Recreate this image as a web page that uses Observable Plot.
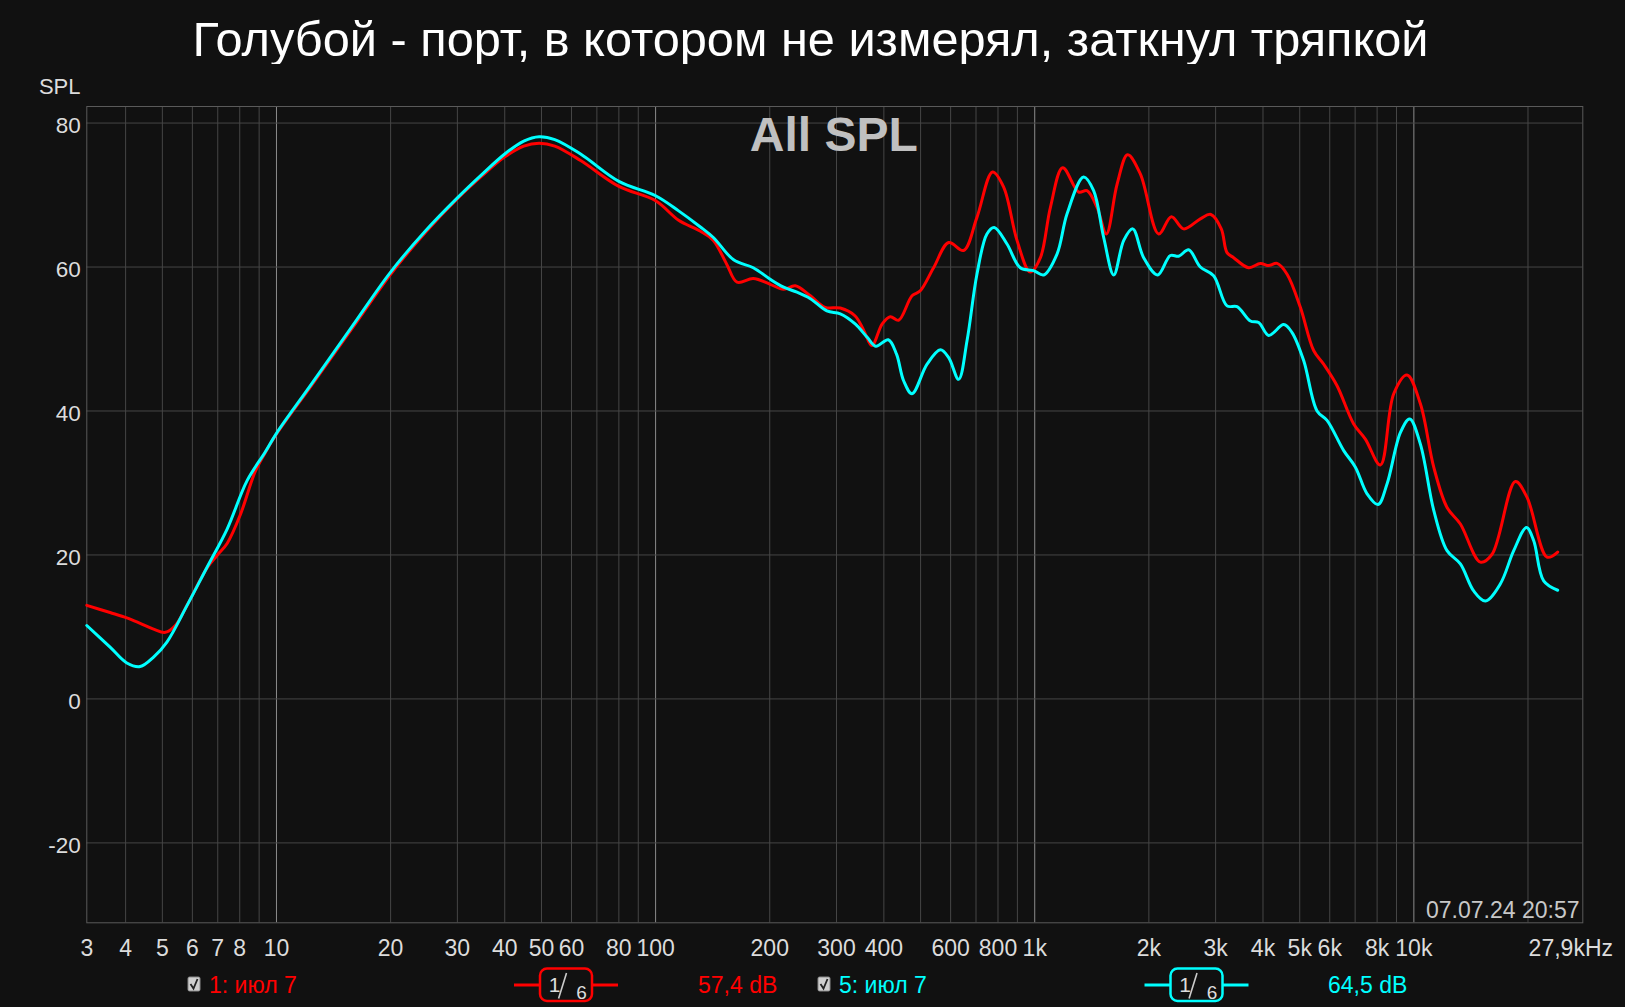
<!DOCTYPE html>
<html>
<head>
<meta charset="utf-8">
<script src="https://cdn.jsdelivr.net/npm/d3@7"></script>
<script src="https://cdn.jsdelivr.net/npm/@observablehq/plot@0.6"></script>
<style>
  html, body { margin: 0; padding: 0; background: #111111; }
  #wrap { position: relative; width: 1625px; height: 1007px; overflow: hidden; background: #111111; font-family: "Liberation Sans", Arial, sans-serif; }
  #title { position: absolute; top: 15px; left: -2px; width: 1625px; text-align: center; color: #ffffff; font-size: 48.7px; line-height: 48px; white-space: nowrap; }
  #plot { position: absolute; top: 64px; left: 0; }
  #legend { position: absolute; top: 960px; left: 0; }
</style>
</head>
<body>
<div id="wrap">
  <div id="title">Голубой - порт, в котором не измерял, заткнул тряпкой</div>
  <div id="plot"></div>
  <svg id="legend" width="1625" height="47" xmlns="http://www.w3.org/2000/svg" font-family="Liberation Sans, Arial, sans-serif"></svg>
</div>
<script>
// ---------- data ----------
const freq1 = [3.16,3.64,4.03,4.37,4.74,5.09,5.41,5.81,6.56,6.96,7.41,8.03,8.79,9.34,10,12.35,15.9,20,24.7,30,34.9,40,44.9,49.3,54.2,63.4,80,100,115,131,142,154,164,181,200.6,217.6,233.6,256,280,307,336,354,372,396,416,437.5,474.6,499,541,593,649,704,774,828,898,973,1035,1100,1185,1306,1373,1460,1545,1649,1758,1900,2123,2293,2471,2734,2914,3105,3215,3347,3666,3936,4141,4357,4630,5019,5441,5781,6272,6938,7448,8160,8849,9594,10404,11284,12233,13266,14978,16080,18520,19887,22455,23954];
const spl1 = [13.0,12.0,11.25,10.5,9.7,9.25,10.2,13.0,18.2,19.9,21.6,25.6,31.6,34.2,36.8,43.5,51.6,59.0,64.8,69.5,72.7,75.3,76.8,77.2,76.8,74.8,71.2,69.2,66.5,65.0,63.7,60.4,57.9,58.4,57.6,56.9,57.4,56.0,54.4,54.3,53.2,51.2,49.1,52.1,53.1,52.6,56.0,56.7,59.9,63.4,62.3,66.9,73.2,71.1,63.7,59.3,61.3,68.3,73.8,70.4,70.6,68.3,64.6,71.5,75.6,72.9,64.6,67.0,65.3,66.7,67.3,65.3,62.0,61.3,59.9,60.5,60.2,60.5,59.0,54.4,48.4,46.5,43.5,38.2,36.1,32.5,42.4,45.0,41.0,32.2,26.6,24.3,19.0,20.1,30.2,28.0,19.7,20.4];

const freq2 = [3.16,3.64,4.03,4.37,4.74,5.14,5.81,6.56,7.41,8.36,9.34,10,12.35,15.9,20,24.7,30,34.9,40,44.9,49.3,54.2,63.4,80,100,115,131,142,160.6,181,200.6,217.6,236,256,283,307,336,362,381,411,432,451,474.6,520,564,593,630,663,704,748,782,845,916,993,1056,1145,1217,1346,1430,1520,1616,1717,1813,1938,2110,2279,2397,2547,2734,2964,3215,3417,3706,3897,4141,4537,4772,5121,5555,5902,6531,7011,7526,8044,8500,9213,9750,10404,11284,12233,13266,14380,15443,16915,18340,19810,20700,22000,23954];
const spl2 = [10.2,7.2,5.0,4.5,5.8,7.9,13.0,18.3,23.6,30.3,34.3,36.9,43.7,51.9,59.3,65.0,69.6,72.9,75.7,77.5,78.1,77.7,75.7,71.9,69.9,67.8,65.6,64.1,61.0,59.9,58.3,57.2,56.5,55.6,53.9,53.5,52.1,50.2,49.0,49.9,47.9,44.2,42.4,46.5,48.5,47.4,44.4,49.8,59.0,64.6,65.5,63.2,59.9,59.5,58.9,61.8,67.4,72.5,70.6,64.1,58.9,63.7,65.3,61.3,58.9,61.6,61.5,62.4,60.0,58.8,54.6,54.5,52.5,52.3,50.5,52.0,50.9,47.0,40.0,38.7,34.5,32.2,28.5,27.0,29.9,37.0,38.9,35.4,26.2,20.6,18.75,15.0,13.6,16.0,20.6,23.8,22.0,16.4,15.1];

const xDomain = [3.16, 27900];
const yDomain = [-31.1, 82.3];
const yTicks = [-20, 0, 20, 40, 60, 80];
const yTickLabels = ["-20", "0", "20", "40", "60", "80"];
const xTickValues = [3.16, 4, 5, 6, 7, 8, 10, 20, 30, 40, 50, 60, 80, 100, 200, 300, 400, 600, 800, 1000, 2000, 3000, 4000, 5000, 6000, 8000, 10000];
const xTickLabels = ["3", "4", "5", "6", "7", "8", "10", "20", "30", "40", "50", "60", "80", "100", "200", "300", "400", "600", "800", "1k", "2k", "3k", "4k", "5k", "6k", "8k", "10k"];
const xEndLabel = "27,9kHz";
const majorGrid = [10, 100, 1000, 10000];
const minorGrid = [4,5,6,7,8,9, 20,30,40,50,60,70,80,90, 200,300,400,500,600,700,800,900, 2000,3000,4000,5000,6000,7000,8000,9000, 20000];

const series1Name = "1: июл 7", series1Level = "57,4 dB";
const series2Name = "5: июл 7", series2Level = "64,5 dB";
const smoothing = ["1", "6"];
const yLabel = "SPL";
const chartLabel = "All SPL";
const stamp = "07.07.24 20:57";

const red = "#ff0000", cyan = "#00ffff";

const data1 = freq1.map((f, i) => ({f, v: spl1[i]}));
const data2 = freq2.map((f, i) => ({f, v: spl2[i]}));
const xTicksData = xTickValues.map((v, i) => ({v, label: xTickLabels[i]}));
const yTicksData = yTicks.map((v, i) => ({v, label: yTickLabels[i]}));

const chart = Plot.plot({
  width: 1625,
  height: 896,
  marginTop: 42,
  marginBottom: 37.7,
  marginLeft: 86.3,
  marginRight: 42.7,
  style: {background: "#111111", color: "#dcdcdc", fontFamily: "Liberation Sans, Arial, sans-serif", fontSize: "22px"},
  x: {type: "log", domain: xDomain, axis: null},
  y: {domain: yDomain, axis: null},
  marks: [
    Plot.ruleX(minorGrid, {stroke: "#464646", strokeWidth: 1}),
    Plot.ruleX(majorGrid, {stroke: "#8c8c8c", strokeWidth: 1}),
    Plot.ruleY(yTicks, {stroke: "#464646", strokeWidth: 1}),
    Plot.frame({stroke: "#5a5a5a"}),
    Plot.text(yTicksData, {y: "v", text: "label", frameAnchor: "left", textAnchor: "end", dx: -6, dy: 3, fontSize: 22.5, fill: "#dcdcdc"}),
    Plot.text(xTicksData, {x: "v", text: "label", frameAnchor: "bottom", lineAnchor: "bottom", dy: 32.7, fontSize: 23, fill: "#dcdcdc"}),
    Plot.text([xEndLabel], {x: () => xDomain[1], frameAnchor: "bottom", lineAnchor: "bottom", dy: 32.7, dx: -12, text: d => d, fontSize: 23, fill: "#dcdcdc"}),
    Plot.text([yLabel], {frameAnchor: "top-left", textAnchor: "end", lineAnchor: "bottom", dx: -6.3, dy: -12.7, text: d => d, fontSize: 22, fill: "#dcdcdc"}),
    Plot.text([chartLabel], {frameAnchor: "top", lineAnchor: "bottom", dx: -1, dy: 44.7, text: d => d, fontSize: 48, fontWeight: "bold", fill: "#c0c0c0"}),
    Plot.text([stamp], {frameAnchor: "bottom-right", textAnchor: "end", lineAnchor: "bottom", dx: -3.3, dy: -5, text: d => d, fontSize: 23, fill: "#c8c8c8"}),
    Plot.line(data1, {x: "f", y: "v", stroke: red, strokeWidth: 3, curve: "catmull-rom"}),
    Plot.line(data2, {x: "f", y: "v", stroke: cyan, strokeWidth: 3, curve: "catmull-rom"})
  ]
});
document.getElementById("plot").appendChild(chart);

// ---------- legend ----------
const lg = d3.select("#legend");
function legendItem(x0, color, name, boxX, level, levelX) {
  lg.append("rect").attr("x", x0).attr("y", 17).attr("width", 12).attr("height", 14).attr("rx", 1.5)
    .attr("fill", "#cfcfcf").attr("stroke", "#8a8a8a").attr("stroke-width", 1);
  lg.append("path").attr("d", `M${x0 + 2.5},${24} L${x0 + 5.5},${28.5} L${x0 + 9.5},${19}`)
    .attr("fill", "none").attr("stroke", "#222").attr("stroke-width", 1.8);
  lg.append("text").attr("x", x0 + 21).attr("y", 33.3).attr("fill", color).attr("font-size", 23).text(name);
  lg.append("line").attr("x1", boxX - 26).attr("x2", boxX).attr("y1", 25).attr("y2", 25).attr("stroke", color).attr("stroke-width", 3);
  lg.append("line").attr("x1", boxX + 52).attr("x2", boxX + 78).attr("y1", 25).attr("y2", 25).attr("stroke", color).attr("stroke-width", 3);
  lg.append("rect").attr("x", boxX).attr("y", 8.5).attr("width", 52).attr("height", 32.5).attr("rx", 7)
    .attr("fill", "#111").attr("stroke", color).attr("stroke-width", 2.5);
  lg.append("text").attr("x", boxX + 14.5).attr("y", 32).attr("text-anchor", "middle").attr("fill", "#dddddd").attr("font-size", 21).text(smoothing[0]);
  lg.append("line").attr("x1", boxX + 26.5).attr("y1", 13).attr("x2", boxX + 18.6).attr("y2", 38.5).attr("stroke", "#cccccc").attr("stroke-width", 1.6);
  lg.append("text").attr("x", boxX + 41.5).attr("y", 38.5).attr("text-anchor", "middle").attr("fill", "#dddddd").attr("font-size", 19).text(smoothing[1]);
  lg.append("text").attr("x", levelX).attr("y", 33.3).attr("fill", color).attr("font-size", 23).text(level);
}
legendItem(188, red, series1Name, 540, series1Level, 698);
legendItem(818, cyan, series2Name, 1170.5, series2Level, 1328);
</script>
</body>
</html>
